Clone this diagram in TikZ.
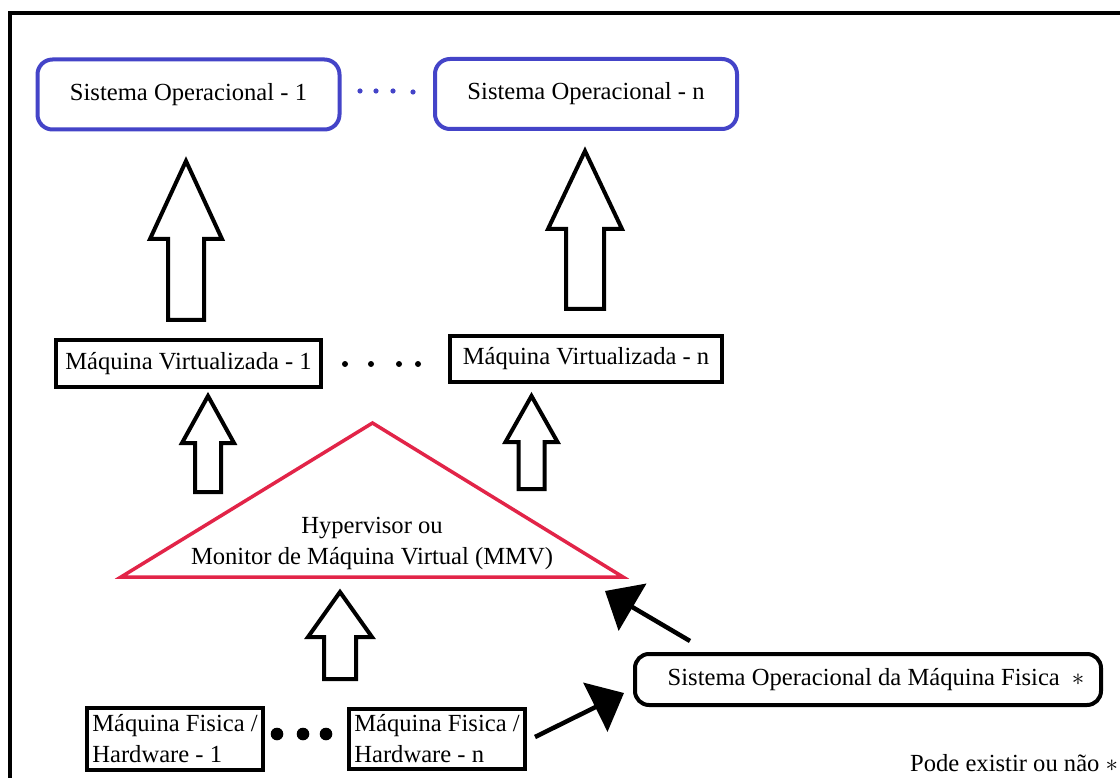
\documentclass[tikz,border=0pt]{standalone}
\usepackage{fontspec}
\setmainfont{Liberation Serif}
\usetikzlibrary{arrows.meta,calc}
\definecolor{osblue}{RGB}{68,68,200}
\definecolor{hvred}{RGB}{226,36,72}
\newcommand\drawblockup[6]{% cx, tip y, head y, bottom y, head half width, shaft half width
  \draw[blockarrow] (#1,#2) -- ({#1+#5},#3) -- ({#1+#6},#3) -- ({#1+#6},#4) -- ({#1-#6},#4) -- ({#1-#6},#3) -- ({#1-#5},#3) -- cycle;}
\begin{document}
\begin{tikzpicture}[x=1pt,y=-1pt,
  lbl/.style={font=\fontsize{24.6}{31}\selectfont, inner sep=0pt},
  osbox/.style={draw=osblue, line width=4pt, rounded corners=15pt, lbl},
  vmbox/.style={draw, line width=4.5pt, lbl},
  hwbox/.style={draw, line width=4.5pt, lbl, align=left, minimum width=176pt, minimum height=62pt},
  hostbox/.style={draw, line width=4pt, rounded corners=14pt, lbl},
  blockarrow/.style={draw, line width=4pt, line join=miter, fill=white},
  blackarrow/.style={line width=4.5pt, -{Triangle[length=32pt,width=54pt]}},
  hvtri/.style={draw=hvred, line width=3.5pt, line join=miter}
]
\useasboundingbox (0,0) rectangle (1120,778);
\fill[white] (0,0) rectangle (1120,778);
% frame
\draw[line width=4pt] (10,778) -- (10,13.5) -- (1120,13.5);

% operating systems
\node[osbox, minimum width=302pt, minimum height=70pt] (so1) at (188.5,94.5) {Sistema Operacional - 1};
\node[osbox, minimum width=302pt, minimum height=70pt] (son) at (586,94) {Sistema Operacional - n};
\foreach \x/\y in {360/91,376/91,393/91,413/92} \fill[osblue] (\x,\y) circle (2.6pt);

% virtual machines
\node[vmbox, minimum width=265pt, minimum height=47pt] (mv1) at (188.5,363.5) {Máquina Virtualizada - 1};
\node[vmbox, minimum width=272pt, minimum height=46pt] (mvn) at (586,359) {Máquina Virtualizada - n};
\foreach \x in {345,371,399,418} \fill (\x,364) circle (3pt);

% block arrows VM -> OS
\drawblockup{186}{161}{239}{320}{36}{18}
\drawblockup{585}{151}{229}{309}{37}{19}
% block arrows hypervisor -> VM
\drawblockup{208}{396}{443}{492}{26}{13}
\drawblockup{531.5}{396}{442}{489}{26}{13}

% hypervisor triangle
\coordinate (tA) at (372.5,423);
\coordinate (tL) at (121,577);
\coordinate (tR) at (623,577);
\draw[hvtri] (tA) -- (tR) -- (tL) -- cycle;
\node[lbl, align=center] (hyp) at (372,543) {Hypervisor ou\\Monitor de Máquina Virtual (MMV)};

% block arrow hardware -> hypervisor
\drawblockup{340}{592}{637}{679}{32}{16}

% physical machines
\node[hwbox] (mf1) at (175,739) {Máquina Fisica /\\Hardware - 1};
\node[hwbox, minimum height=60pt] (mfn) at (437,739) {Máquina Fisica /\\Hardware - n};
\foreach \x in {277,303,326} \fill (\x,734) circle (6.3pt);

% host operating system
\node[hostbox, minimum width=466pt, minimum height=51pt] (sof) at (868,679.5) {\hspace{16pt}Sistema Operacional da Máquina Fisica\hspace{12pt}$\ast$};

% black arrows
\coordinate (aS) at (690,641);
\coordinate (aT) at (605,591);
\draw[blackarrow] (aS) -- (aT);
\coordinate (bS) at (535,737);
\coordinate (bT) at (624,693);
\draw[blackarrow] (bS) -- (bT);

% note
\node[lbl, anchor=west] (note) at (910,763) {Pode existir ou não $\ast$};
\end{tikzpicture}
\end{document}
